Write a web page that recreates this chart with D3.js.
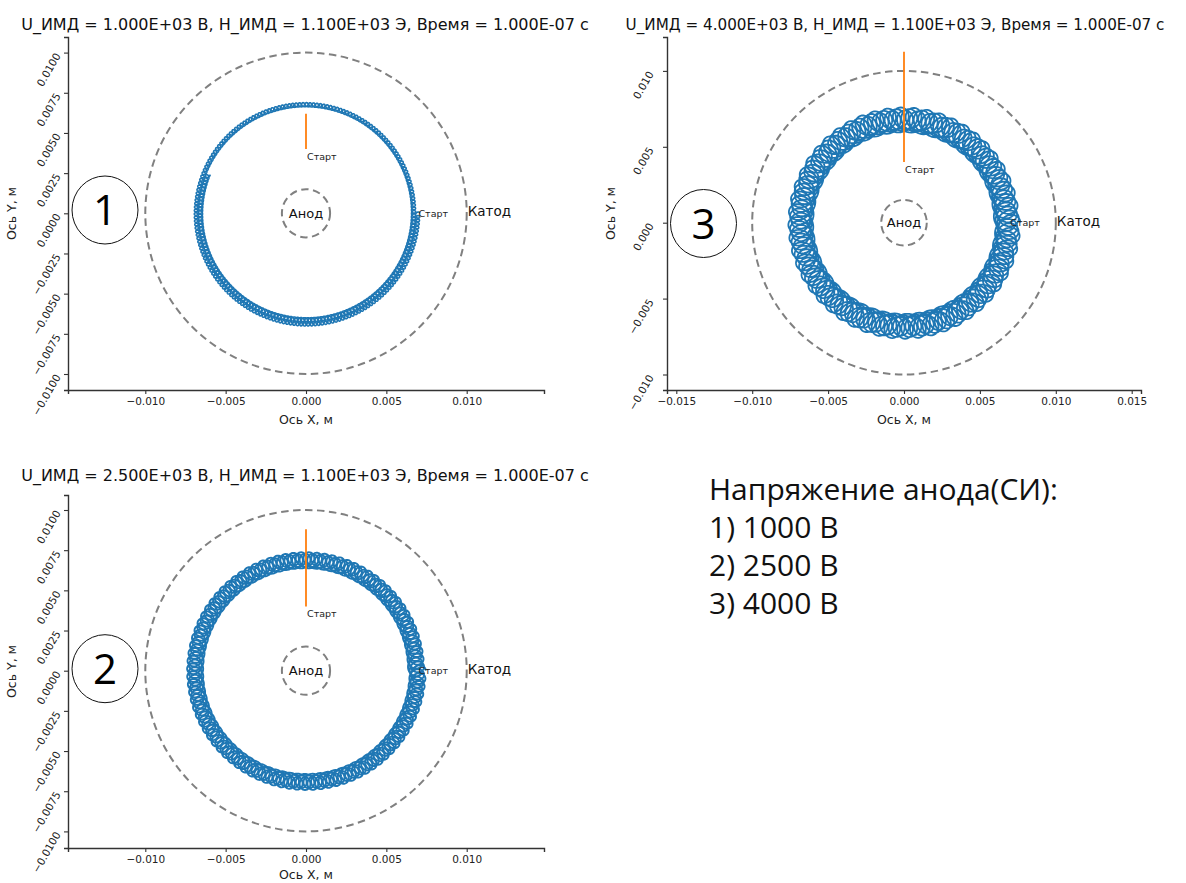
<!DOCTYPE html>
<html>
<head>
<meta charset="utf-8">
<script src="https://cdn.jsdelivr.net/npm/d3@7"></script>
<style>
  body { margin: 0; background: #fff; }
  svg { display: block; }
</style>
</head>
<body>
<script>
// ---------------- data ----------------
const panelTitles = [
  "U_ИМД = 1.000E+03 В, Н_ИМД = 1.100E+03 Э, Время = 1.000E-07 с",
  "U_ИМД = 4.000E+03 В, Н_ИМД = 1.100E+03 Э, Время = 1.000E-07 с",
  "U_ИМД = 2.500E+03 В, Н_ИМД = 1.100E+03 Э, Время = 1.000E-07 с"
];
const panelNumbers = ["1", "3", "2"];
const xTicksSmall = [-0.010, -0.005, 0.000, 0.005, 0.010];
const yTicksSmall = [-0.0100, -0.0075, -0.0050, -0.0025, 0.0000, 0.0025, 0.0050, 0.0075, 0.0100];
const xTicksWide = [-0.015, -0.010, -0.005, 0.000, 0.005, 0.010, 0.015];
const yTicksWide = [-0.010, -0.005, 0.000, 0.005, 0.010];
const cathodeRadius = 0.010;
const anodeRadius = 0.0015;
const trajStart = [0.007, 0.0];
const beamBottomY = 0.004;
const beamTopY = [0.0062, 0.01126, 0.0088];
// trajectory descriptors per panel (guiding radius start/end, gyration radius, drift turns, gyration loops)
const guideRadiusStart = [0.00695, 0.00695, 0.0070];
const guideRadiusEnd   = [0.00655, 0.00665, 0.0068];
const gyroRadius = [0.00013, 0.00072, 0.00045];
const driftTurns = [1.56, 3.0, 2.0];
const gyroLoops = [308, 154, 181];
const legendLines = ["Напряжение анода(СИ):", "1) 1000 В", "2) 2500 В", "3) 4000 В"];

// ---------------- layout ----------------
const W = 1186, H = 883;
const layouts = [
  { cx: 306, cy: 213.3, k: 16070, left: 68, right: 544, top: 37, bottom: 390,
    xt: xTicksSmall, yt: yTicksSmall, xfmt: ".3f", yfmt: ".4f",
    titleX: 305, titleY: 30, titleFs: 16, ylabPad: 7, xlabDy: 34, lw: 1.6,
    numX: 105, numY: 210 },
  { cx: 904, cy: 222.7, k: 15180, left: 667, right: 1141, top: 37, bottom: 390,
    xt: xTicksWide, yt: yTicksWide, xfmt: ".3f", yfmt: ".3f",
    titleX: 895, titleY: 30, titleFs: 15.2, ylabPad: 13, xlabDy: 34, lw: 1.8,
    numX: 703.5, numY: 223.5 },
  { cx: 306, cy: 670.7, k: 16070, left: 68, right: 544, top: 495, bottom: 848,
    xt: xTicksSmall, yt: yTicksSmall, xfmt: ".3f", yfmt: ".4f",
    titleX: 305, titleY: 481, titleFs: 16, ylabPad: 7, xlabDy: 31, lw: 1.9,
    numX: 105, numY: 668.7 }
];

const svg = d3.select("body").append("svg").attr("width", W).attr("height", H)
  .style("font-family", "'DejaVu Sans', sans-serif");
svg.append("rect").attr("width", W).attr("height", H).attr("fill", "#fff");

const minus = s => s.replace("-", "\u2212");
const axisColor = "#333";

layouts.forEach((L, i) => {
  const x = d3.scaleLinear()
    .domain([(L.left - L.cx) / L.k, (L.right - L.cx) / L.k])
    .range([L.left, L.right]);
  const y = d3.scaleLinear()
    .domain([(L.cy - L.bottom) / L.k, (L.cy - L.top) / L.k])
    .range([L.bottom, L.top]);
  const g = svg.append("g");

  // axes
  const xAxis = d3.axisBottom(x).tickValues(L.xt).tickSize(4).tickPadding(4)
    .tickFormat(d => minus(d3.format(L.xfmt)(d)));
  const gx = g.append("g").attr("transform", `translate(0,${L.bottom})`).call(xAxis);
  gx.select(".domain").attr("stroke", axisColor).attr("stroke-width", 1.4);
  gx.selectAll(".tick line").attr("stroke", axisColor).attr("stroke-width", 1.1);
  gx.selectAll(".tick text").attr("fill", "#222").style("font-size", "10.5px")
    .style("font-family", "'DejaVu Sans', sans-serif");

  const yAxis = d3.axisLeft(y).tickValues(L.yt).tickSize(4).tickFormat("");
  const gy = g.append("g").attr("transform", `translate(${L.left},0)`).call(yAxis);
  gy.select(".domain").attr("stroke", axisColor).attr("stroke-width", 1.4);
  gy.selectAll(".tick line").attr("stroke", axisColor).attr("stroke-width", 1.1);
  g.append("g").selectAll("text").data(L.yt).join("text")
    .attr("transform", d => `translate(${L.left - L.ylabPad},${y(d) + 3}) rotate(-60)`)
    .attr("text-anchor", "end")
    .attr("fill", "#222").style("font-size", "10.5px")
    .text(d => minus(d3.format(L.yfmt)(d)));

  // axis labels
  g.append("text").attr("x", (L.left + L.right) / 2).attr("y", L.bottom + L.xlabDy)
    .attr("text-anchor", "middle").style("font-size", "12.5px").attr("fill", "#222")
    .text("Ось X, м");
  g.append("text")
    .attr("transform", `translate(${L.left - 52},${(L.top + L.bottom) / 2}) rotate(-90)`)
    .attr("text-anchor", "middle").style("font-size", "12.5px").attr("fill", "#222")
    .text("Ось Y, м");

  // title
  g.append("text").attr("x", L.titleX).attr("y", L.titleY).attr("text-anchor", "middle")
    .style("font-size", L.titleFs + "px").attr("fill", "#111").text(panelTitles[i]);

  // electrodes
  const ellipse = (r) => g.append("ellipse")
    .attr("cx", x(0)).attr("cy", y(0))
    .attr("rx", x(r) - x(0)).attr("ry", y(0) - y(r))
    .attr("fill", "none").attr("stroke", "#808080").attr("stroke-width", 2)
    .attr("stroke-dasharray", "7.5,4.5");
  ellipse(cathodeRadius);
  ellipse(anodeRadius);

  // trajectory
  const n = gyroLoops[i] * 36;
  const pts = [];
  for (let j = 0; j <= n; j++) {
    const t = j / n;
    const phi = -2 * Math.PI * driftTurns[i] * t;
    const R = guideRadiusStart[i] + (guideRadiusEnd[i] - guideRadiusStart[i]) * t;
    const psi = 2 * Math.PI * gyroLoops[i] * t;
    pts.push([R * Math.cos(phi) + gyroRadius[i] * Math.cos(psi),
              R * Math.sin(phi) + gyroRadius[i] * Math.sin(psi)]);
  }
  const line = d3.line().x(d => x(d[0])).y(d => y(d[1]));
  g.append("path").attr("d", line(pts)).attr("fill", "none")
    .attr("stroke", "#1f77b4").attr("stroke-width", L.lw).attr("stroke-linejoin", "round");

  // beam line (orange)
  g.append("path").attr("d", line([[0, beamBottomY], [0, beamTopY[i]]]))
    .attr("fill", "none").attr("stroke", "#ff7f0e").attr("stroke-width", 1.8);

  // labels
  g.append("text").attr("x", x(0) + 1).attr("y", y(beamBottomY) + 11)
    .style("font-size", "9.5px").attr("fill", "#222").text("Старт");
  g.append("text").attr("x", x(trajStart[0])).attr("y", y(trajStart[1]) + 1)
    .attr("dominant-baseline", "middle")
    .style("font-size", "9.5px").attr("fill", "#222").text("Старт");
  g.append("text").attr("x", x(0)).attr("y", y(0) + 1)
    .attr("text-anchor", "middle").attr("dominant-baseline", "middle")
    .style("font-size", "13px").attr("fill", "#111").text("Анод");
  g.append("text").attr("x", x(cathodeRadius) + 1).attr("y", y(0) - 1)
    .attr("dominant-baseline", "middle")
    .style("font-size", "13.5px").attr("fill", "#111").text("Катод");

  // circled number
  svg.append("ellipse").attr("cx", L.numX).attr("cy", L.numY).attr("rx", 33).attr("ry", 34)
    .attr("fill", "none").attr("stroke", "#111").attr("stroke-width", 1);
  svg.append("text").attr("x", L.numX).attr("y", L.numY + 15)
    .attr("text-anchor", "middle")
    .style("font-family", "'Open Sans', sans-serif").style("font-size", "42px")
    .attr("fill", "#000").text(panelNumbers[i]);
});

// legend text block
svg.append("g").selectAll("text").data(legendLines).join("text")
  .attr("x", 709).attr("y", (d, j) => 500 + j * 38)
  .style("font-family", "'Open Sans', sans-serif").style("font-size", "30px")
  .attr("fill", "#111").text(d => d);
</script>
</body>
</html>
